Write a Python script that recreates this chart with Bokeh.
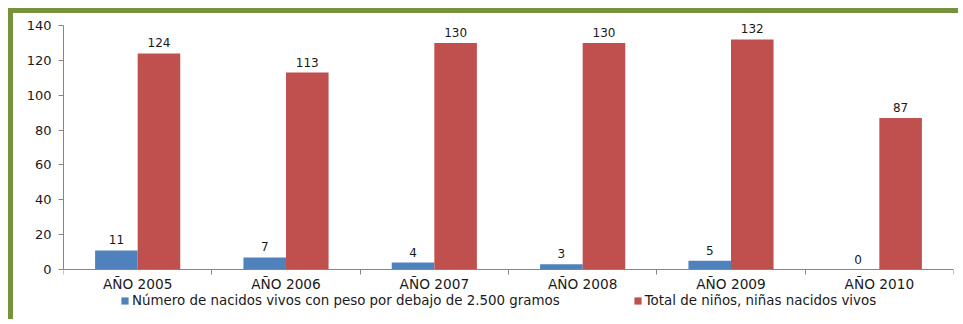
from bokeh.plotting import figure
from bokeh.models import ColumnDataSource, Range1d, FixedTicker, Legend, LegendItem, LinearAxis
from bokeh.transform import dodge
from bokeh.core.properties import value
from bokeh.embed import file_html
from bokeh.resources import INLINE

years = ["AÑO 2005", "AÑO 2006", "AÑO 2007", "AÑO 2008", "AÑO 2009", "AÑO 2010"]
low_weight = [11, 7, 4, 3, 5, 0]
total_births = [124, 113, 130, 130, 132, 87]
series_names = ["Número de nacidos vivos con peso por debajo de 2.500 gramos",
                "Total de niños, niñas nacidos vivos"]
y_ticks = [0, 20, 40, 60, 80, 100, 120, 140]

centers = [i + 0.5 for i in range(len(years))]
bounds = [float(i) for i in range(len(years) + 1)]

src = ColumnDataSource(dict(
    x=centers,
    low=low_weight,
    total=total_births,
    low_lbl=[str(v) for v in low_weight],
    total_lbl=[str(v) for v in total_births],
))

FONT = "DejaVu Sans"
BLUE = "#4F81BD"
RED = "#C0504D"
AX = "#868686"

# frame spans the whole canvas height; axes are drawn at fixed data positions
Y_MIN = -31.5
Y_MAX = 146.9
p = figure(width=950, height=311, output_backend="svg", toolbar_location=None,
           x_range=Range1d(0, 6), y_range=Range1d(Y_MIN, Y_MAX), x_axis_location=None,
           min_border_left=50, min_border_right=10, min_border_top=0, min_border_bottom=0)
p.styles = {"border-left": "5px solid #76923C", "border-top": "5px solid #76923C",
            "margin-left": "8px", "margin-top": "8px"}
p.outline_line_color = None
p.xgrid.visible = False
p.ygrid.visible = False
p.background_fill_color = "white"
p.border_fill_color = "white"

W = 0.287
OFF = 0.1435
r1 = p.vbar(x=dodge("x", -OFF, range=p.x_range), top="low", width=W, source=src,
            fill_color=BLUE, line_color=None)
r2 = p.vbar(x=dodge("x", OFF, range=p.x_range), top="total", width=W, source=src,
            fill_color=RED, line_color=None)

for col, lbl, off in (("low", "low_lbl", -OFF), ("total", "total_lbl", OFF)):
    p.text(x=dodge("x", off, range=p.x_range), y=col, text=lbl, source=src,
           text_font=value(FONT), text_font_size="12px", text_color="#1a1a1a",
           text_align="center", text_baseline="bottom", y_offset=-6)

# x axis drawn at y = 0
xa = LinearAxis(fixed_location=0)
xa.ticker = FixedTicker(ticks=centers, minor_ticks=bounds)
xa.major_label_overrides = {c: y for c, y in zip(centers, years)}
xa.major_tick_out = 0
xa.major_tick_in = 0
xa.minor_tick_out = 5
xa.minor_tick_in = 0
xa.minor_tick_line_color = AX
xa.axis_line_color = AX
xa.major_label_text_font = FONT
xa.major_label_text_font_size = "13.7px"
xa.major_label_text_color = "#1a1a1a"
xa.major_label_standoff = 1
p.add_layout(xa, "below")

ya = p.yaxis[0]
ya.ticker = FixedTicker(ticks=y_ticks)
ya.bounds = (y_ticks[0], y_ticks[-1])
ya.major_tick_out = 5
ya.major_tick_in = 0
ya.minor_tick_out = 0
ya.minor_tick_in = 0
ya.axis_line_color = AX
ya.major_tick_line_color = AX
ya.major_label_text_font = FONT
ya.major_label_text_font_size = "13px"
ya.major_label_text_color = "#1a1a1a"
ya.major_label_standoff = 7

legend = Legend(items=[LegendItem(label=series_names[0], renderers=[r1]),
                       LegendItem(label=series_names[1], renderers=[r2])],
                orientation="horizontal", location=(57, 16),
                label_text_font=FONT, label_text_font_size="13.4px", label_text_color="#1a1a1a",
                glyph_width=9, glyph_height=9, label_standoff=3, spacing=73,
                padding=2, margin=0, border_line_color=None, background_fill_alpha=0,
                label_height=12)
p.add_layout(legend, "center")

open("out.html", "w").write(file_html(p, INLINE))
